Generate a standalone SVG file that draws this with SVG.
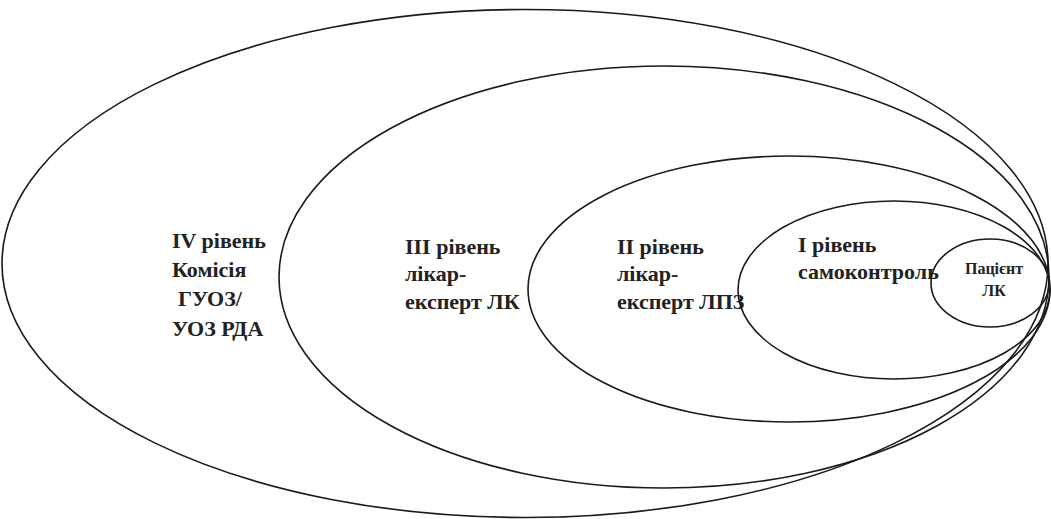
<svg xmlns="http://www.w3.org/2000/svg" width="1051" height="519" viewBox="0 0 1051 519">
<style>
.e{fill:none;stroke:#1a1a1a;stroke-width:1.6}
.t{font-family:"Liberation Serif","Times New Roman",serif;font-weight:bold;font-size:22px;fill:#222}
.s{font-size:16px}
</style>
<rect width="1051" height="519" fill="#fff"/>
<g id="level4">
<ellipse class="e" cx="525" cy="263.5" rx="523" ry="254"/>
<text class="t" x="172" y="248">IV рівень</text>
<text class="t" x="172" y="277">Комісія</text>
<text class="t" x="178" y="306">ГУОЗ/</text>
<text class="t" x="172" y="336">УОЗ РДА</text>
</g>
<g id="level3">
<ellipse class="e" cx="664" cy="277" rx="385" ry="211"/>
<text class="t" x="405" y="254">ІІІ рівень</text>
<text class="t" x="405" y="281">лікар-</text>
<text class="t" x="405" y="309">експерт ЛК</text>
</g>
<g id="level2">
<ellipse class="e" cx="789" cy="289" rx="261" ry="133"/>
<text class="t" x="617" y="254">ІІ рівень</text>
<text class="t" x="617" y="281">лікар-</text>
<text class="t" x="617" y="309">експерт ЛПЗ</text>
</g>
<g id="level1">
<ellipse class="e" cx="894" cy="290" rx="156" ry="89"/>
<text class="t" x="798" y="252">І рівень</text>
<text class="t" x="798" y="279">самоконтроль</text>
</g>
<g id="patient">
<ellipse class="e" cx="990" cy="283" rx="59" ry="44" fill="#fff"/>
<text class="t s" x="994" y="274" text-anchor="middle">Пацієнт</text>
<text class="t s" x="994" y="296" text-anchor="middle">ЛК</text>
</g>
<g id="connectors"/>
</svg>
